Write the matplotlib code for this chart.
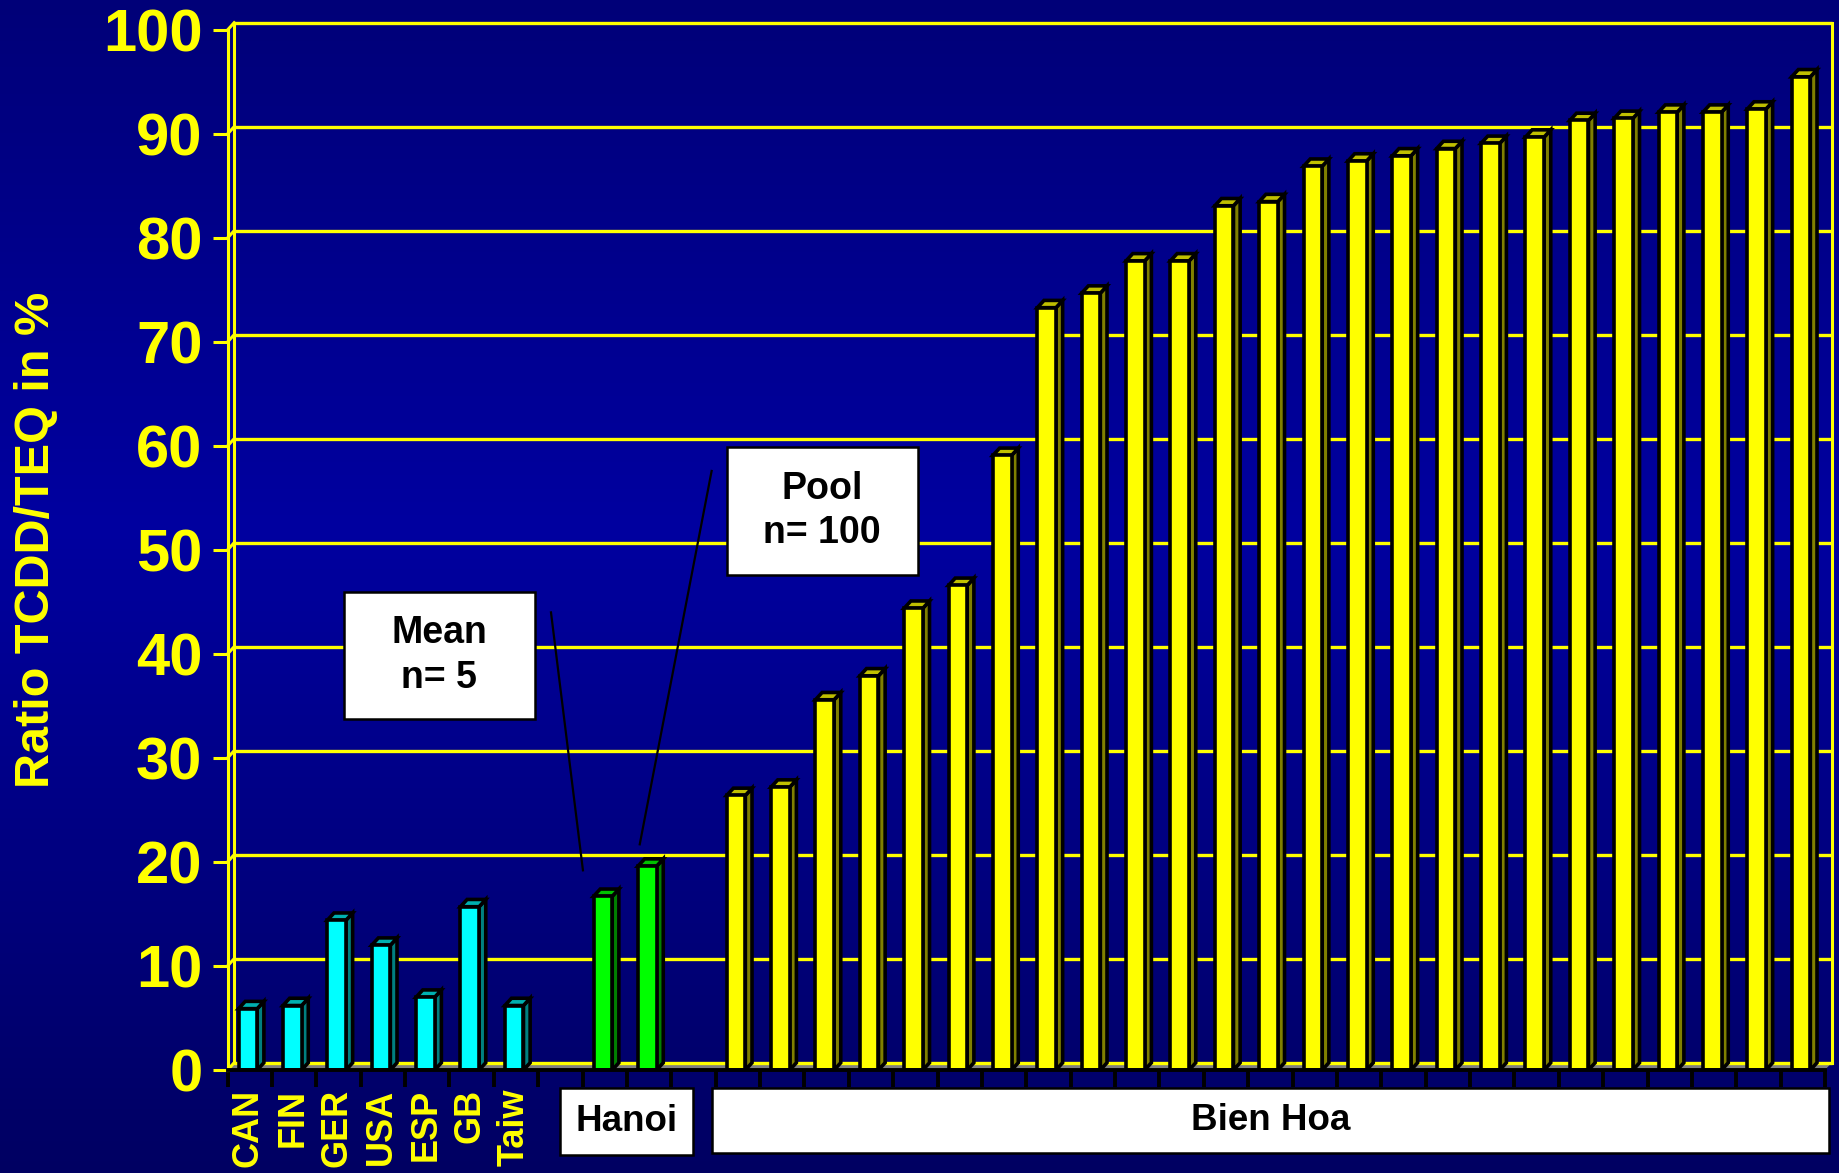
import matplotlib
matplotlib.use("Agg")
import matplotlib.pyplot as plt
from matplotlib.patches import Rectangle, Polygon
import numpy as np

plt.rcParams['font.family'] = ['Liberation Sans', 'DejaVu Sans']
plt.rcParams['font.weight'] = 'bold'

# reference countries (mean values) -> cyan
countries = ['CAN', 'FIN', 'GER', 'USA', 'ESP', 'GB', 'Taiw']
country_vals = [5.9, 6.2, 14.4, 12.0, 7.0, 15.7, 6.2]
# Hanoi (mean n=5, pool n=100) -> green
hanoi_vals = [16.7, 19.6]
# Bien Hoa individual samples -> yellow
bienhoa_vals = [26.4, 27.2, 35.6, 37.9, 44.4, 46.6, 59.1, 73.3, 74.7, 77.8,
                77.8, 83.1, 83.5, 86.9, 87.4, 87.9, 88.6, 89.1, 89.7, 91.3,
                91.5, 92.1, 92.1, 92.4, 95.5]

YELLOW = '#ffff00'
styles = {
    'cyan': ('#00ffff', '#008080', '#00b0b0'),
    'green': ('#00ff00', '#008000', '#00c000'),
    'yellow': ('#ffff00', '#808000', '#c0c000'),
}

# slot layout: countries, gap, Hanoi, gap, Bien Hoa
bars = []
slot = 0
for v in country_vals:
    bars.append((slot, v, 'cyan'))
    slot += 1
slot += 1
hanoi_start = slot
for v in hanoi_vals:
    bars.append((slot, v, 'green'))
    slot += 1
slot += 1
bh_start = slot
for v in bienhoa_vals:
    bars.append((slot, v, 'yellow'))
    slot += 1
nslots = slot

W, H = 1839, 1173
fig = plt.figure(figsize=(W / 100, H / 100), dpi=100)

# background gradient
bg = fig.add_axes([0, 0, 1, 1], zorder=0)
rows = np.linspace(0, 1, 400)
blue = np.interp(rows, [0, 0.45, 1.0], [120, 160, 98]) / 255.0
grad = np.zeros((400, 1, 3))
grad[:, 0, 2] = blue
bg.imshow(grad, aspect='auto', extent=[0, 1, 0, 1])
bg.set_axis_off()

x0, x1 = 227.5, 1825
y0, y1 = 1070, 30
ax = fig.add_axes([x0 / W, 1 - y0 / H, (x1 - x0) / W, (y0 - y1) / H], zorder=1)
ax.set_xlim(0, nslots)
ax.set_ylim(0, 100)
ax.patch.set_visible(False)

DX, DY = 0.15, 0.7    # depth offset of the back wall
L, BW = 0.25, 0.42    # bar offset and width inside a slot

# floor
ax.add_patch(Polygon([(0, 0), (nslots, 0), (nslots + DX, DY), (DX, DY)],
                     closed=True, fc='#808080', ec='none', zorder=1, clip_on=False))

# back wall grid + left wall connectors
for v in range(0, 101, 10):
    ax.plot([DX, nslots + DX], [v + DY, v + DY], color=YELLOW, lw=2.4,
            zorder=2, clip_on=False, solid_capstyle='butt')
    ax.plot([0, DX], [v, v + DY], color=YELLOW, lw=2.2, zorder=2, clip_on=False)
ax.plot([DX, DX], [DY, 100 + DY], color=YELLOW, lw=2.2, zorder=2, clip_on=False)
ax.plot([nslots + DX, nslots + DX], [DY, 100 + DY], color=YELLOW, lw=2.2,
        zorder=2, clip_on=False)

# 3-D looking bars
for i, v, kind in bars:
    front, side, top = styles[kind]
    xl = i + L
    xr = xl + BW
    ax.add_patch(Polygon([(xr, 0), (xr + DX, DY), (xr + DX, v + DY), (xr, v)],
                         closed=True, fc=side, ec='black', lw=2.6, zorder=3,
                         joinstyle='miter'))
    ax.add_patch(Polygon([(xl, v), (xr, v), (xr + DX, v + DY), (xl + DX, v + DY)],
                         closed=True, fc=top, ec='black', lw=2.6, zorder=3,
                         joinstyle='miter'))
    ax.add_patch(Rectangle((xl, 0), BW, v, fc=front, ec='black', lw=2.6,
                           zorder=4, joinstyle='miter'))

# axes
for s in ['top', 'right']:
    ax.spines[s].set_visible(False)
ax.spines['left'].set_color(YELLOW)
ax.spines['left'].set_linewidth(2.2)
ax.spines['bottom'].set_color('black')
ax.spines['bottom'].set_linewidth(2.8)
ax.spines['bottom'].set_zorder(5)
ax.set_yticks(range(0, 101, 10))
ax.tick_params(axis='y', colors=YELLOW, length=11, width=2.2, pad=7,
               labelsize=43)
ax.set_xticks(range(nslots + 1))
ax.set_xticklabels([])
ax.tick_params(axis='x', color='black', length=12, width=2.8)

# category labels
for i, name in enumerate(countries):
    ax.text(i + 0.47, -1.8, name, rotation=90, ha='center', va='top',
            fontsize=26, color=YELLOW, fontweight='bold', clip_on=False)

def label_box(xa, xb, ya, yb, text, size):
    ax.add_patch(Rectangle((xa, ya), xb - xa, yb - ya, fc='white', ec='black',
                           lw=1.8, zorder=6, clip_on=False))
    ax.text((xa + xb) / 2, (ya + yb) / 2, text, ha='center', va='center',
            fontsize=size, color='black', fontweight='bold', zorder=7,
            linespacing=1.3, clip_on=False)

label_box(hanoi_start - 0.5, hanoi_start + 2.5, -8.2, -1.7, 'Hanoi', 26.5)
label_box(bh_start - 0.09, nslots + 0.1, -8.0, -1.7, 'Bien Hoa', 26.5)

# annotations for the two Hanoi bars
label_box(2.62, 6.93, 33.75, 45.95, 'Mean\nn= 5', 27)
label_box(11.25, 15.55, 47.6, 59.9, 'Pool\nn= 100', 27)
ax.plot([7.29, 8.01], [44.0, 19.2], color='black', lw=1.6, zorder=6)
ax.plot([10.91, 9.29], [57.6, 21.7], color='black', lw=1.6, zorder=6)

fig.text(37 / W, 1 - 540 / H, 'Ratio TCDD/TEQ in %', rotation=90,
         ha='center', va='center', fontsize=35, color=YELLOW,
         fontweight='bold')

fig.savefig('out.png', dpi=100)
